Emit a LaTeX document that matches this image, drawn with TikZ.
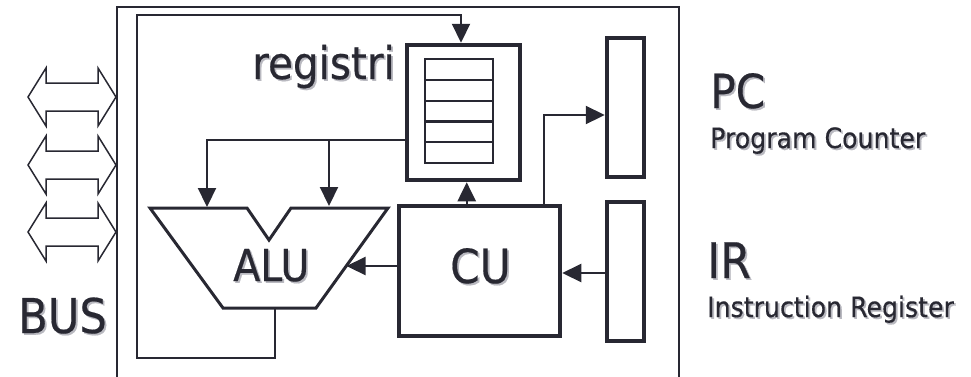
\documentclass[tikz,border=0pt]{standalone}
\usepackage{fontspec}
\setmainfont{DejaVu Sans}[FakeStretch=0.9,FakeBold=0.4]
\usetikzlibrary{arrows.meta}
\definecolor{ink}{RGB}{40,40,50}
\definecolor{shade}{RGB}{185,185,192}
% text with a soft drop shadow
\newcommand{\shtext}[1]{\makebox[0pt][l]{\hspace{1.8pt}\raisebox{-1.8pt}{\color{shade}#1}}#1}
\tikzset{
  frame/.style={draw=ink, line width=1.6pt},
  wire/.style={draw=ink, line width=2.2pt},
  arr/.style={wire, -{Triangle[length=19pt,width=18pt]}},
  thickbox/.style={draw=ink, line width=4.5pt, rectangle, inner sep=0pt, fill=white},
  cell/.style={draw=ink, line width=2.2pt, rectangle, inner sep=0pt, minimum width=68pt, minimum height=20.8pt},
  lbl/.style={text=ink, inner sep=0pt, anchor=base west},
  busarrow/.style={draw=ink, line width=1.5pt, fill=white, line join=miter},
}
\begin{document}
\begin{tikzpicture}[x=1pt,y=-1pt]
\useasboundingbox (0,0) rectangle (971,376);

% processor frame, open at the bottom edge
\draw[frame] (117,380) -- (117,7) -- (679,7) -- (679,380);

% bus arrows
\foreach \c in {97,165,232}{
  \draw[busarrow] (28,\c) -- (46,\c-29) -- (46,\c-14) -- (98,\c-14) -- (98,\c-29)
     -- (116,\c) -- (98,\c+29) -- (98,\c+14) -- (46,\c+14) -- (46,\c+29) -- cycle;
}
\node[lbl, font=\fontsize{48}{50}\selectfont] (bus) at (18,333) {\shtext{BUS}};

% register file
\node[thickbox, minimum width=113pt, minimum height=135pt] (regbox) at (463.5,112.5) {};
\foreach \i in {1,...,5}{
  \node[cell] (cell\i) at (459,{59+20.8*(\i-0.5)}) {};
}
\node[lbl, font=\fontsize{45}{47}\selectfont] (reglabel) at (252,79) {\shtext{registri}};

% ALU
\coordinate (alutl) at (150,208);
\coordinate (alutr) at (388,208);
\coordinate (alubl) at (223,308);
\coordinate (alubr) at (316,308);
\coordinate (alubot) at (275,308);
\draw[draw=ink, line width=3pt, line join=miter] (alutl) -- (247,208) -- (269,240) -- (291,208)
   -- (alutr) -- (alubr) -- (alubl) -- cycle;
\node[lbl, font=\fontsize{44}{46}\selectfont] (alulabel) at (233,281) {\shtext{ALU}};

% control unit
\node[thickbox, minimum width=161pt, minimum height=130pt] (cu) at (479.5,271) {};
\node[lbl, font=\fontsize{47}{49}\selectfont] (culabel) at (450,283) {\shtext{CU}};

% PC and IR
\node[thickbox, minimum width=37pt, minimum height=139pt] (pc) at (625.5,107.5) {};
\node[thickbox, minimum width=37pt, minimum height=139pt] (ir) at (625.5,271.5) {};
\node[lbl, font=\fontsize{47}{49}\selectfont] (pclabel) at (710,108) {\shtext{PC}};
\node[lbl, font=\fontsize{28}{30}\selectfont] (pcname) at (710,148) {\shtext{Program Counter}};
\node[lbl, font=\fontsize{49}{51}\selectfont] (irlabel) at (707,278) {\shtext{IR}};
\node[lbl, font=\fontsize{28}{30}\selectfont] (irname) at (707,317) {\shtext{Instruction Register}};

% connections
\coordinate (aluin1) at (207,207);
\coordinate (aluin2) at (329,206);
\coordinate (aluright) at (346.5,266);
\draw[arr] (alubot) |- (137,358) -- (137,15) -| ([xshift=-2.5pt]regbox.north);
\draw[arr] (regbox.west |- 0,140) -| (aluin1);
\draw[arr] (aluin2 |- 0,140) -- (aluin2);
\draw[arr] (cu.north -| 466.7,0) -- (regbox.south -| 466.7,0);
\draw[arr] (cu.north -| 544,0) |- (pc.west |- 0,115);
\draw[arr] (cu.west |- 0,266) -- (aluright);
\draw[arr] (ir.west |- 0,273) -- (cu.east |- 0,273);
\end{tikzpicture}
\end{document}
